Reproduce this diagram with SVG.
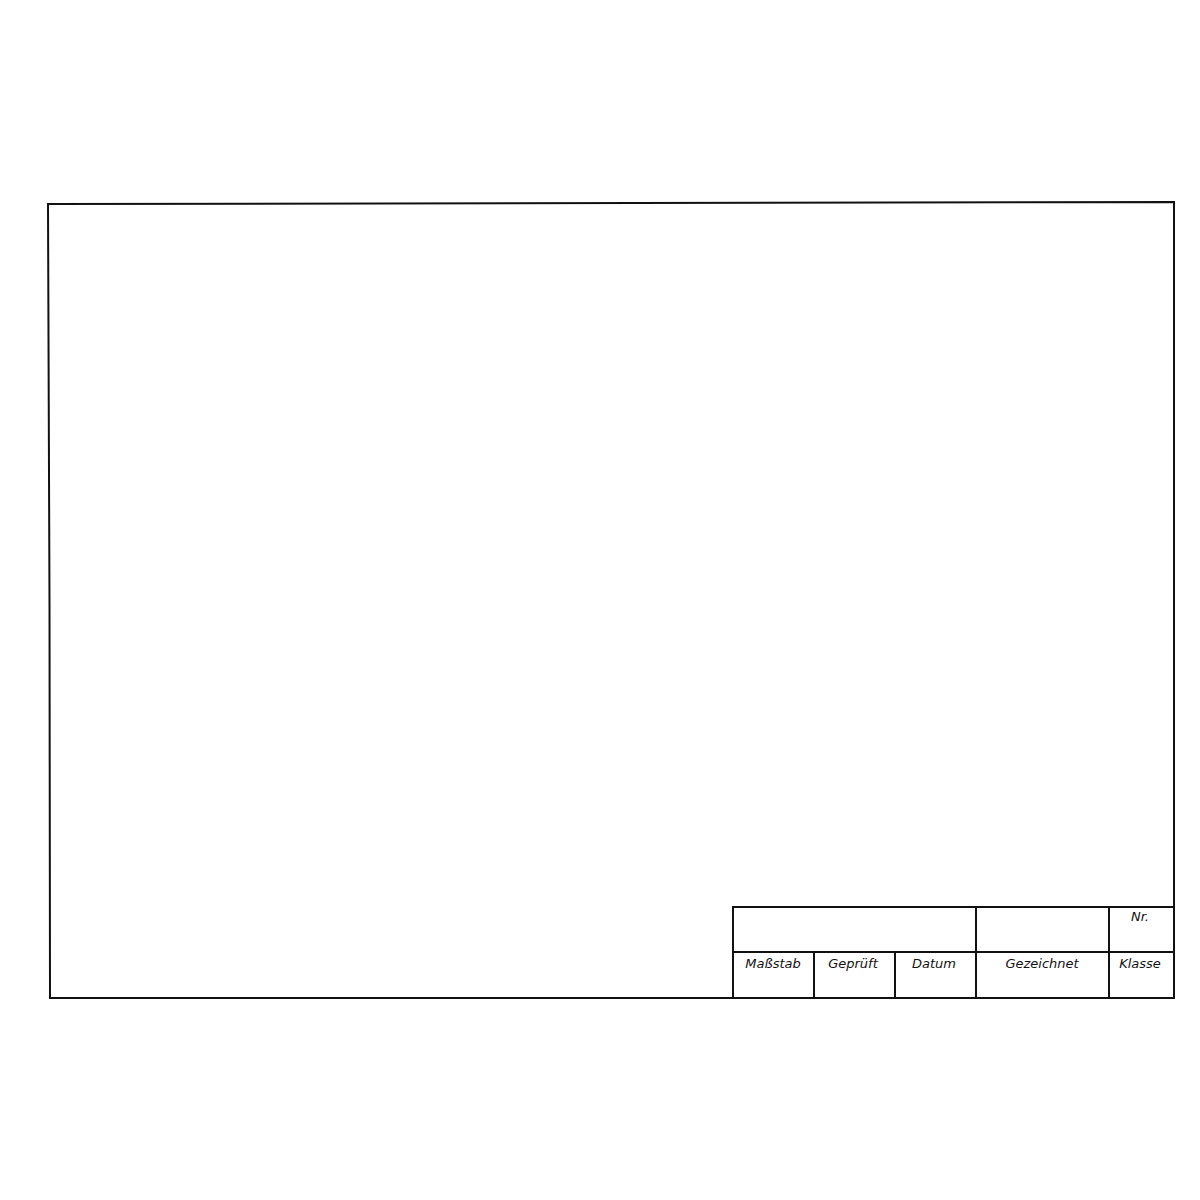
<svg xmlns="http://www.w3.org/2000/svg" width="1200" height="1200" viewBox="0 0 1200 1200">
<style>
.ln{fill:none;stroke:#111;stroke-width:2;stroke-linecap:square}
.t{font-family:"DejaVu Sans","Liberation Sans",sans-serif;font-style:italic;font-size:13px;fill:#111;text-anchor:middle}
</style>
<rect width="1200" height="1200" fill="#fff"/>
<g id="frame">
<polyline class="ln" points="48,204 1174,202 1174,998 50,998 49.5,605 48,204"/>
</g>
<g id="titleblock">
<rect class="ln" x="733" y="907" width="441" height="91"/>
<line class="ln" x1="733" y1="952" x2="1174" y2="952"/>
<line class="ln" x1="814" y1="952" x2="814" y2="998"/>
<line class="ln" x1="895" y1="952" x2="895" y2="998"/>
<line class="ln" x1="976" y1="907" x2="976" y2="998"/>
<line class="ln" x1="1109" y1="907" x2="1109" y2="998"/>
<text class="t" x="1140" y="921" font-size="12">Nr.</text>
<text class="t" x="773" y="968">Maßstab</text>
<text class="t" x="853" y="968">Geprüft</text>
<text class="t" x="934" y="968">Datum</text>
<text class="t" x="1042" y="968">Gezeichnet</text>
<text class="t" x="1140" y="968">Klasse</text>
</g>
</svg>
